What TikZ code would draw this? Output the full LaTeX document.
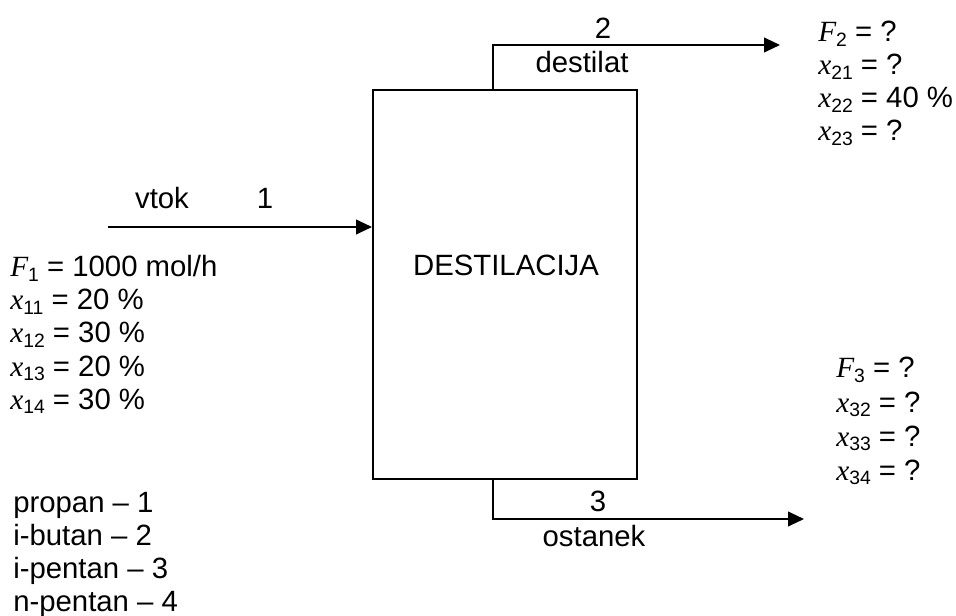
\documentclass[tikz,border=0pt]{standalone}
\usepackage{fontspec}
\setmainfont{Liberation Sans}
\newfontfamily\timesfont{Liberation Serif}
\usepackage{tikz}
\usetikzlibrary{positioning, arrows.meta}

\newcommand{\spr}[2]{{\timesfont\itshape #1}\raisebox{-0.15em}{\fontsize{14.5}{14.5}\selectfont #2}}

\begin{document}
\begin{tikzpicture}[x=0.75pt, y=-0.75pt,
    besedilo/.style={font=\fontsize{22}{25}\selectfont, inner sep=0pt},
    vrstica/.style={besedilo, anchor=base west},
    tok/.style={line width=1.5pt, -{Triangle[length=12pt, width=11pt]}},
    kolona/.style={draw, line width=1.5pt, minimum width=198pt, minimum height=291.75pt, inner sep=0pt}]
    \useasboundingbox (0,0) rectangle (956,616);

    % Column
    \node[kolona] (dest) at (505,284.5) {};
    \node[besedilo, anchor=base] (naziv) at (506,276) {DESTILACIJA};

    % Feed
    \coordinate (vstop) at (108,227);
    \draw[tok] (vstop) -- (vstop -| dest.west);
    \node[besedilo, anchor=base] (vtok) at (162,209) {vtok};
    \node[besedilo, anchor=base] (st1) at (265,209) {1};

    % Distillate
    \coordinate (odcep) at (493,0);
    \coordinate (konec2) at (780,45);
    \draw[tok] (dest.north -| odcep) |- (konec2);
    \node[besedilo, anchor=base] (st2) at (603,39) {2};
    \node[besedilo, anchor=base] (destilat) at (582,73) {destilat};

    % Bottoms
    \coordinate (konec3) at (804,519);
    \draw[tok] (dest.south -| odcep) |- (konec3);
    \node[besedilo, anchor=base] (st3) at (598,511) {3};
    \node[besedilo, anchor=base] (ostanek) at (594,546) {ostanek};

    % Stream data
    \foreach \vr [count=\i] in {{\spr{F}{1} = 1000 mol/h}, {\spr{x}{11} = 20 \%},
        {\spr{x}{12} = 30 \%}, {\spr{x}{13} = 20 \%}, {\spr{x}{14} = 30 \%}}
        \node[vrstica] (l\i) at (10,{277+33*(\i-1)}) {\vr};
    \foreach \vr [count=\i] in {{\spr{F}{2} = ?}, {\spr{x}{21} = ?},
        {\spr{x}{22} = 40 \%}, {\spr{x}{23} = ?}}
        \node[vrstica] (d\i) at (818,{42+33*(\i-1)}) {\vr};
    \foreach \vr [count=\i] in {{\spr{F}{3} = ?}, {\spr{x}{32} = ?},
        {\spr{x}{33} = ?}, {\spr{x}{34} = ?}}
        \node[vrstica] (o\i) at (836,{378+34*(\i-1)}) {\vr};

    % Components
    \foreach \kom [count=\i] in {propan -- 1, i-butan -- 2, i-pentan -- 3, n-pentan -- 4}
        \node[vrstica] (k\i) at (13,{512+33*(\i-1)}) {\kom};

\end{tikzpicture}
\end{document}
